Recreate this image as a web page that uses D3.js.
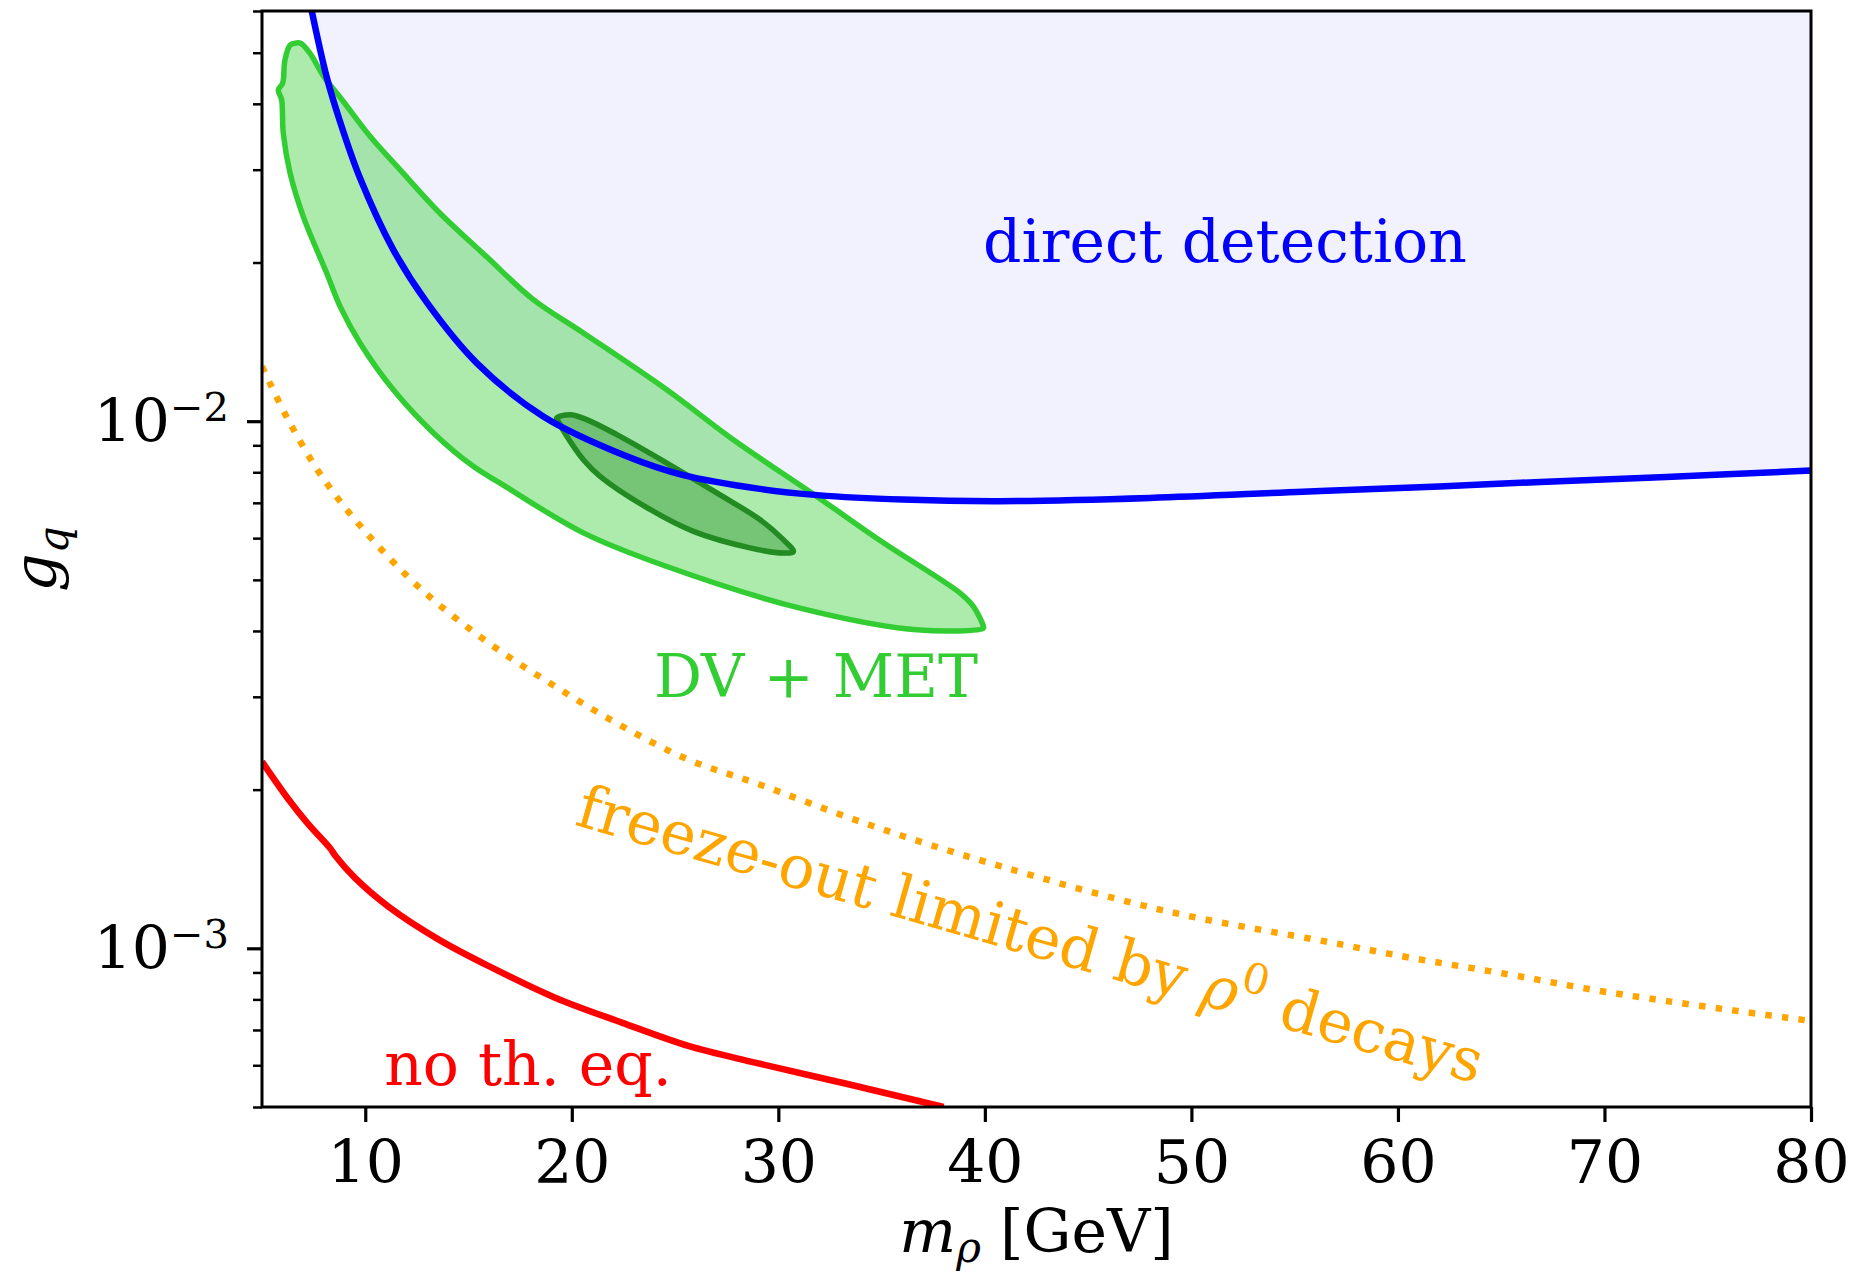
<!DOCTYPE html>
<html>
<head>
<meta charset="utf-8">
<script src="https://cdn.jsdelivr.net/npm/d3@7"></script>
<style>
  html, body { margin: 0; padding: 0; background: #fff; }
  svg { display: block; }
  text { font-family: "DejaVu Serif", serif; }
</style>
</head>
<body>
<svg id="chart" width="1858" height="1274"></svg>
<script>
// axis ticks
const xTicks = [10, 20, 30, 40, 50, 60, 70, 80];
const yMajor = [1e-3, 1e-2];
const yMajorExp = ['\u22123', '\u22122'];
const yMinor = [5e-4, 6e-4, 7e-4, 8e-4, 9e-4,
  2e-3, 3e-3, 4e-3, 5e-3, 6e-3, 7e-3, 8e-3, 9e-3,
  2e-2, 3e-2, 4e-2, 5e-2, 6e-2];

// [m_rho (GeV), g_q]
const directDetection = [
  [7.41, 0.0600], [8.13, 0.0450], [8.78, 0.0370], [9.75, 0.0289], [11.36, 0.02114],
  [12.98, 0.01680], [15.40, 0.01289], [18.62, 0.01021], [22.66, 0.00858], [25.4, 0.00790],
  [29.1, 0.00744], [31.9, 0.00724], [36.0, 0.00710], [40.7, 0.00705], [48.0, 0.00715],
  [55.4, 0.00735], [62.0, 0.00752], [66.9, 0.00767], [73.0, 0.00784], [80.0, 0.00806]
];

const noThermalEq = [
  [5.0, 0.00226], [6.27, 0.00192], [7.24, 0.00172], [8.29, 0.00155], [8.54, 0.00150],
  [9.50, 0.00136], [11.12, 0.00120], [13.54, 0.00104], [15.96, 0.000926], [19.19, 0.000806],
  [22.42, 0.000723], [25.64, 0.000653], [28.87, 0.000607], [33.5, 0.000551], [38.0, 0.000500]
];

const freezeOut = [
  [5.0, 0.0127], [5.15, 0.01234], [6.27, 0.01006], [7.89, 0.00786], [9.99, 0.00618],
  [12.73, 0.00479], [15.96, 0.00380], [19.19, 0.00314], [22.42, 0.00264], [25.64, 0.00228],
  [28.87, 0.00206], [34.5, 0.00171], [40.74, 0.001432], [48.77, 0.001177], [56.80, 0.001025],
  [60.59, 0.000960], [65.31, 0.000893], [70.28, 0.000824], [80.0, 0.000728]
];

const dvMetOuter = [
  [5.79, 0.0425], [6.00, 0.0438], [6.11, 0.0484], [6.36, 0.0517], [6.68, 0.0522],
  [6.87, 0.0521], [7.32, 0.0499], [7.97, 0.0452], [8.94, 0.0404], [10.23, 0.0347],
  [11.68, 0.0300], [13.62, 0.0248], [15.88, 0.0205], [18.14, 0.0170], [20.56, 0.0147],
  [24.60, 0.01147], [27.82, 0.00922], [31.86, 0.00720], [35.09, 0.00588], [38.80, 0.00472],
  [39.45, 0.00445], [39.93, 0.00408], [39.93, 0.00405], [36.70, 0.00402], [31.05, 0.00442],
  [24.60, 0.00530], [20.56, 0.00614], [16.53, 0.00763], [15.23, 0.00821], [13.30, 0.00950],
  [11.36, 0.01147], [9.75, 0.01406], [8.78, 0.01651], [8.13, 0.01910], [7.00, 0.02444],
  [6.36, 0.02955], [6.03, 0.03518], [5.95, 0.0407]
];

const dvMetInner = [
  [19.27, 0.01014], [19.92, 0.01029], [20.72, 0.01007], [22.18, 0.00943], [24.60, 0.00833],
  [27.02, 0.00731], [29.12, 0.00650], [30.24, 0.00596], [30.73, 0.00566], [30.24, 0.00562],
  [28.63, 0.00575], [25.89, 0.00618], [23.79, 0.00680], [21.37, 0.00786], [20.56, 0.00845],
  [19.76, 0.00936], [19.35, 0.00999]
];

const svg = d3.select('#chart');
const plotL = 262, plotR = 1811, plotT = 11, plotB = 1107;

const x = d3.scaleLinear().domain([5, 80]).range([plotL, plotR]);
const y = d3.scaleLog().domain([5e-4, 0.06]).range([plotB, plotT]);

svg.append('rect').attr('width', 1858).attr('height', 1274).attr('fill', '#fff');

svg.append('defs').append('clipPath').attr('id', 'plot-clip')
  .append('rect')
  .attr('x', plotL).attr('y', plotT)
  .attr('width', plotR - plotL).attr('height', plotB - plotT);

const g = svg.append('g').attr('clip-path', 'url(#plot-clip)');

const smooth = d3.curveCatmullRom.alpha(0.5);
const line = d3.line().x(d => x(d[0])).y(d => y(d[1])).curve(smooth);
const closed = d3.line().x(d => x(d[0])).y(d => y(d[1])).curve(d3.curveCatmullRomClosed.alpha(0.5));

// excluded region above direct detection bound
g.append('path')
  .datum(directDetection)
  .attr('d', d3.area().x(d => x(d[0])).y0(plotT).y1(d => y(d[1])).curve(smooth))
  .attr('fill', '#f2f2fe');

g.append('path')
  .datum(freezeOut)
  .attr('d', line)
  .attr('fill', 'none')
  .attr('stroke', '#ffa500')
  .attr('stroke-width', 6.5)
  .attr('stroke-dasharray', '6.5,10.2');

g.append('path')
  .datum(noThermalEq)
  .attr('d', line)
  .attr('fill', 'none')
  .attr('stroke', '#ff0000')
  .attr('stroke-width', 6.5);

g.append('path')
  .datum(dvMetOuter)
  .attr('d', closed)
  .attr('fill', '#32cd32')
  .attr('fill-opacity', 0.4)
  .attr('stroke', '#32cd32')
  .attr('stroke-width', 5.5)
  .attr('stroke-linejoin', 'round');

g.append('path')
  .datum(dvMetInner)
  .attr('d', closed)
  .attr('fill', '#228b22')
  .attr('fill-opacity', 0.4)
  .attr('stroke', '#228b22')
  .attr('stroke-width', 5.5)
  .attr('stroke-linejoin', 'round');

g.append('path')
  .datum(directDetection)
  .attr('d', line)
  .attr('fill', 'none')
  .attr('stroke', '#0000ff')
  .attr('stroke-width', 6.5);

// annotations
const labels = svg.append('g').attr('font-size', 60);
labels.append('text').attr('x', 1225).attr('y', 262)
  .attr('text-anchor', 'middle').attr('fill', '#0000ff').text('direct detection');
labels.append('text').attr('x', 816).attr('y', 697)
  .attr('text-anchor', 'middle').attr('fill', '#32cd32').text('DV + MET');
labels.append('text').attr('x', 528).attr('y', 1085)
  .attr('text-anchor', 'middle').attr('fill', '#ff0000').text('no th. eq.');

const fo = labels.append('text')
  .attr('transform', 'translate(1025,954) rotate(16)')
  .attr('text-anchor', 'middle')
  .attr('fill', '#ffa500');
fo.append('tspan').text('freeze-out limited by ');
fo.append('tspan').attr('font-style', 'italic').text('\u03c1');
fo.append('tspan').attr('font-size', 42).attr('dy', -25).text('0');
fo.append('tspan').attr('dy', 25).text(' decays');

// frame
svg.append('rect')
  .attr('x', plotL).attr('y', plotT)
  .attr('width', plotR - plotL).attr('height', plotB - plotT)
  .attr('fill', 'none').attr('stroke', '#000').attr('stroke-width', 3);

// x axis
const xAxis = svg.append('g')
  .attr('transform', `translate(0,${plotB})`)
  .call(d3.axisBottom(x).tickValues(xTicks).tickSize(15).tickFormat(d3.format('d')));
xAxis.select('.domain').remove();
xAxis.selectAll('line').attr('stroke-width', 3.2);
xAxis.selectAll('text')
  .attr('y', 76).attr('dy', 0)
  .attr('font-size', 60)
  .attr('font-family', '"DejaVu Serif", serif')
  .attr('fill', '#000');

// y axis: minor then major ticks
const yMinorAxis = svg.append('g')
  .attr('transform', `translate(${plotL},0)`)
  .call(d3.axisLeft(y).tickValues(yMinor).tickSize(9).tickFormat(''));
yMinorAxis.select('.domain').remove();
yMinorAxis.selectAll('line').attr('stroke-width', 2.5);

const yMajorAxis = svg.append('g')
  .attr('transform', `translate(${plotL},0)`)
  .call(d3.axisLeft(y).tickValues(yMajor).tickSize(15).tickFormat(''));
yMajorAxis.select('.domain').remove();
yMajorAxis.selectAll('line').attr('stroke-width', 3.2);

yMajorAxis.selectAll('.tick').each(function (d, i) {
  const t = d3.select(this).append('text')
    .attr('x', -33).attr('y', 20)
    .attr('text-anchor', 'end')
    .attr('font-size', 60)
    .attr('font-family', '"DejaVu Serif", serif')
    .attr('fill', '#000');
  t.append('tspan').text('10');
  t.append('tspan').attr('font-size', 40).attr('dy', -21).text(yMajorExp[i]);
});

// axis titles
const xt = svg.append('text')
  .attr('x', (plotL + plotR) / 2).attr('y', 1252)
  .attr('text-anchor', 'middle').attr('font-size', 60);
xt.append('tspan').attr('font-style', 'italic').text('m');
xt.append('tspan').attr('font-style', 'italic').attr('font-size', 42).attr('dy', 10).text('\u03c1');
xt.append('tspan').attr('dy', -10).text(' [GeV]');

const yt = svg.append('text')
  .attr('transform', `translate(56,${(plotT + plotB) / 2}) rotate(-90)`)
  .attr('text-anchor', 'middle').attr('font-size', 60);
yt.append('tspan').attr('font-style', 'italic').text('g');
yt.append('tspan').attr('font-style', 'italic').attr('font-size', 42).attr('dy', 12).text('q');
</script>
</body>
</html>
